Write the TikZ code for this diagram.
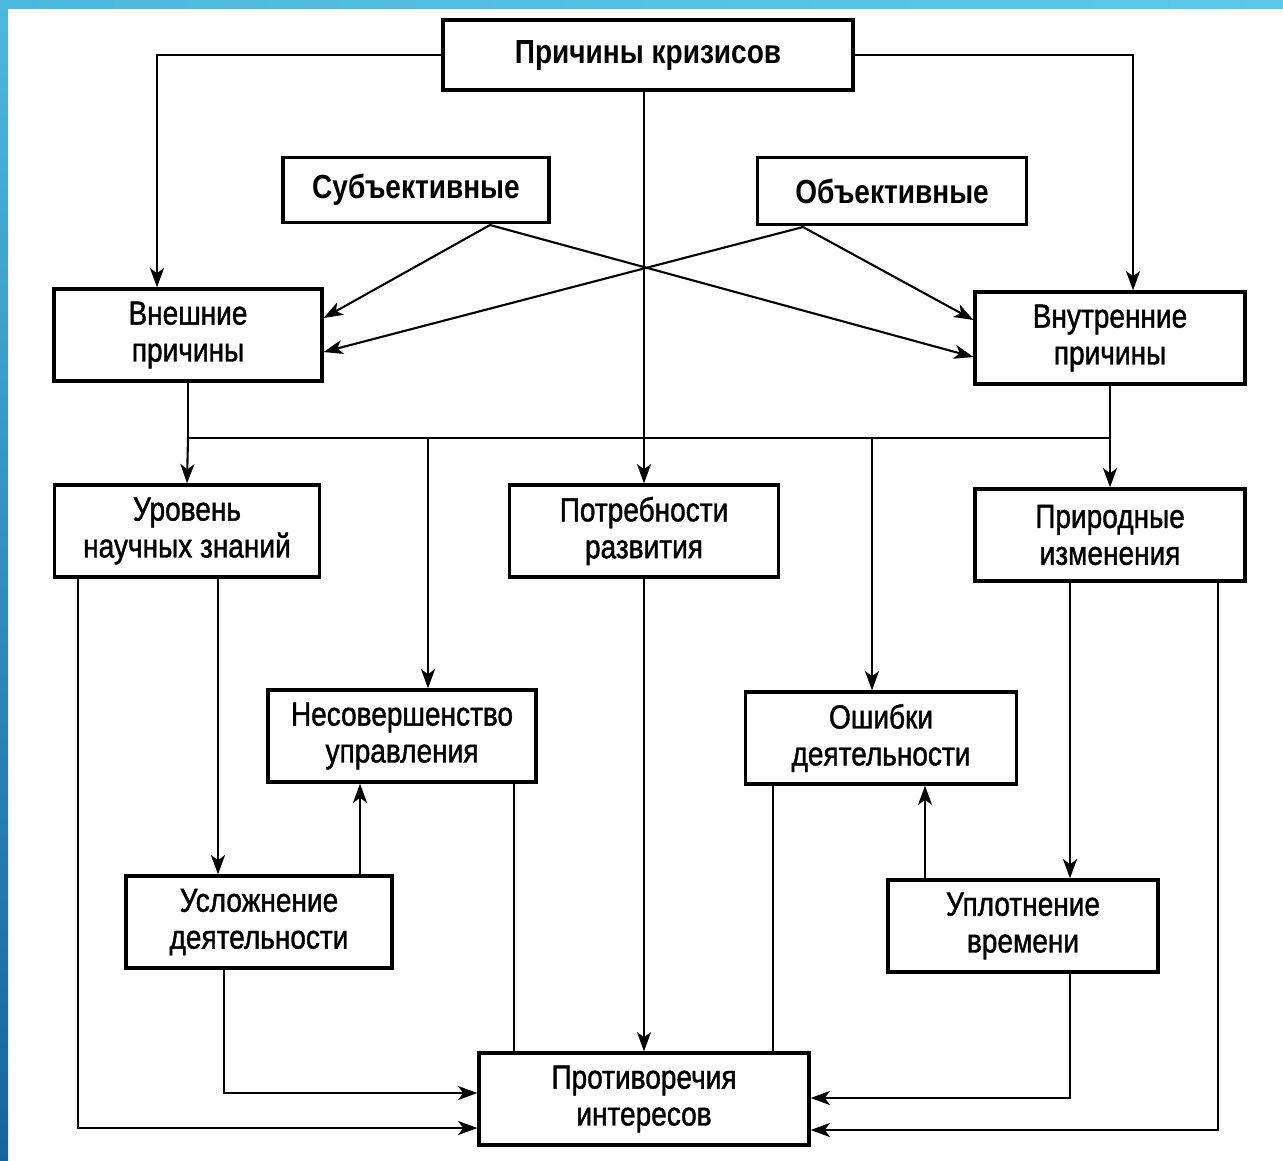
\documentclass[tikz,border=0pt]{standalone}
\usepackage{fontspec}
\setmainfont{Liberation Sans}[FakeStretch=0.84]
\newfontfamily\boxfont{Liberation Sans}[FakeStretch=0.84,FakeBold=1.2]
\usetikzlibrary{arrows.meta}

\definecolor{frametop}{HTML}{4DB8DD}
\definecolor{frameright}{HTML}{5CC9E9}
\definecolor{framebot}{HTML}{15649E}

\tikzset{
  box/.style={draw, line width=1.9pt, minimum width=5.36cm, minimum height=1.84cm,
    inner sep=0pt, align=center, font=\boxfont\fontsize{19}{21}\selectfont},
  headbox/.style={box, font=\fontsize{19}{21}\selectfont\bfseries},
  arr/.style={-{Stealth[length=11pt,width=8pt,inset=3pt]}},
  wire/.style={line width=1.2pt}
}

\begin{document}
\begin{tikzpicture}[x=0.02cm,y=-0.02cm]
        % Page and frame
        \useasboundingbox (0,0) rectangle (1283,1160);
        \fill[white] (0,0) rectangle (1283,1160);
        \shade[top color=frametop, bottom color=framebot] (0,0) rectangle (8,1160);
        \shade[left color=frametop, right color=frameright] (0,0) rectangle (1283,8);

        % Top levels
        \node[headbox, minimum width=8.2cm, minimum height=1.4cm] (top) at (648,55) {Причины кризисов};
        \node[headbox, minimum width=5.32cm, minimum height=1.3cm] (subj) at (416,190) {Субъективные};
        \node[headbox, minimum width=5.38cm, minimum height=1.34cm] (obj) at (892,191) {Объективные};
        \node[box] (ext) at (188,335) {Внешние\\причины};
        \node[box, minimum width=5.4cm] (int) at (1110,338) {Внутренние\\причины};

        % Middle levels
        \node[box, minimum width=5.3cm] (lvl) at (187,531) {Уровень\\научных знаний};
        \node[box, minimum width=5.38cm] (need) at (644,531) {Потребности\\развития};
        \node[box, minimum width=5.4cm] (nat) at (1110,535) {Природные\\изменения};
        \node[box] (mgmt) at (402,736) {Несовершенство\\управления};
        \node[box, minimum width=5.42cm] (err) at (881,738) {Ошибки\\деятельности};
        \node[box, minimum width=5.32cm] (compl) at (259,922) {Усложнение\\деятельности};
        \node[box, minimum width=5.4cm] (dens) at (1023,926) {Уплотнение\\времени};

        % Bottom
        \node[box, minimum width=6.6cm] (confl) at (644,1099) {Противоречия\\интересов};

        % From the top box
        \draw[wire,arr] (top.west) -| (157,0 |- ext.north);
        \draw[wire,arr] (top.east) -| (1133,0 |- int.north);
        \draw[wire,arr] (need.north |- top.south) -- (need.north);

        % Crossing lines
        \coordinate (s) at (490,225);
        \coordinate (o) at (803,227);
        \draw[wire,arr] (s) -- (ext.east |- 0,318);
        \draw[wire,arr] (s) -- (int.west |- 0,357);
        \draw[wire,arr] (o) -- (ext.east |- 0,352);
        \draw[wire,arr] (o) -- (int.west |- 0,320);

        % Bus
        \coordinate (busL) at (ext.south |- 0,438);
        \coordinate (busR) at (int.south |- 0,438);
        \draw[wire] (ext.south) -- (busL) -- (busR) -- (int.south);
        \draw[wire,arr] (busL) -- (lvl.north);
        \draw[wire,arr] (busR) -- (nat.north);
        \draw[wire,arr] (428,438) -- (428,0 |- mgmt.north);
        \draw[wire,arr] (872,438) -- (872,0 |- err.north);

        % Left side
        \draw[wire,arr] (218,0 |- lvl.south) -- (218,0 |- compl.north);
        \draw[wire,arr] (360,0 |- compl.north) -- (360,0 |- mgmt.south);
        \draw[wire,arr] (78,0 |- lvl.south) |- (confl.west |- 0,1128);
        \draw[wire,arr] (224,0 |- compl.south) |- (confl.west |- 0,1093);
        \draw[wire] (514,0 |- mgmt.south) -- (514,0 |- confl.north);

        % Centre
        \draw[wire,arr] (need.south) -- (need.south |- confl.north);

        % Right side
        \draw[wire] (773,0 |- err.south) -- (773,0 |- confl.north);
        \draw[wire,arr] (1070,0 |- nat.south) -- (1070,0 |- dens.north);
        \draw[wire,arr] (925,0 |- dens.north) -- (925,0 |- err.south);
        \draw[wire,arr] (1070,0 |- dens.south) |- (confl.east |- 0,1098);
        \draw[wire,arr] (1218,0 |- nat.south) |- (confl.east |- 0,1130);

\end{tikzpicture}
\end{document}
